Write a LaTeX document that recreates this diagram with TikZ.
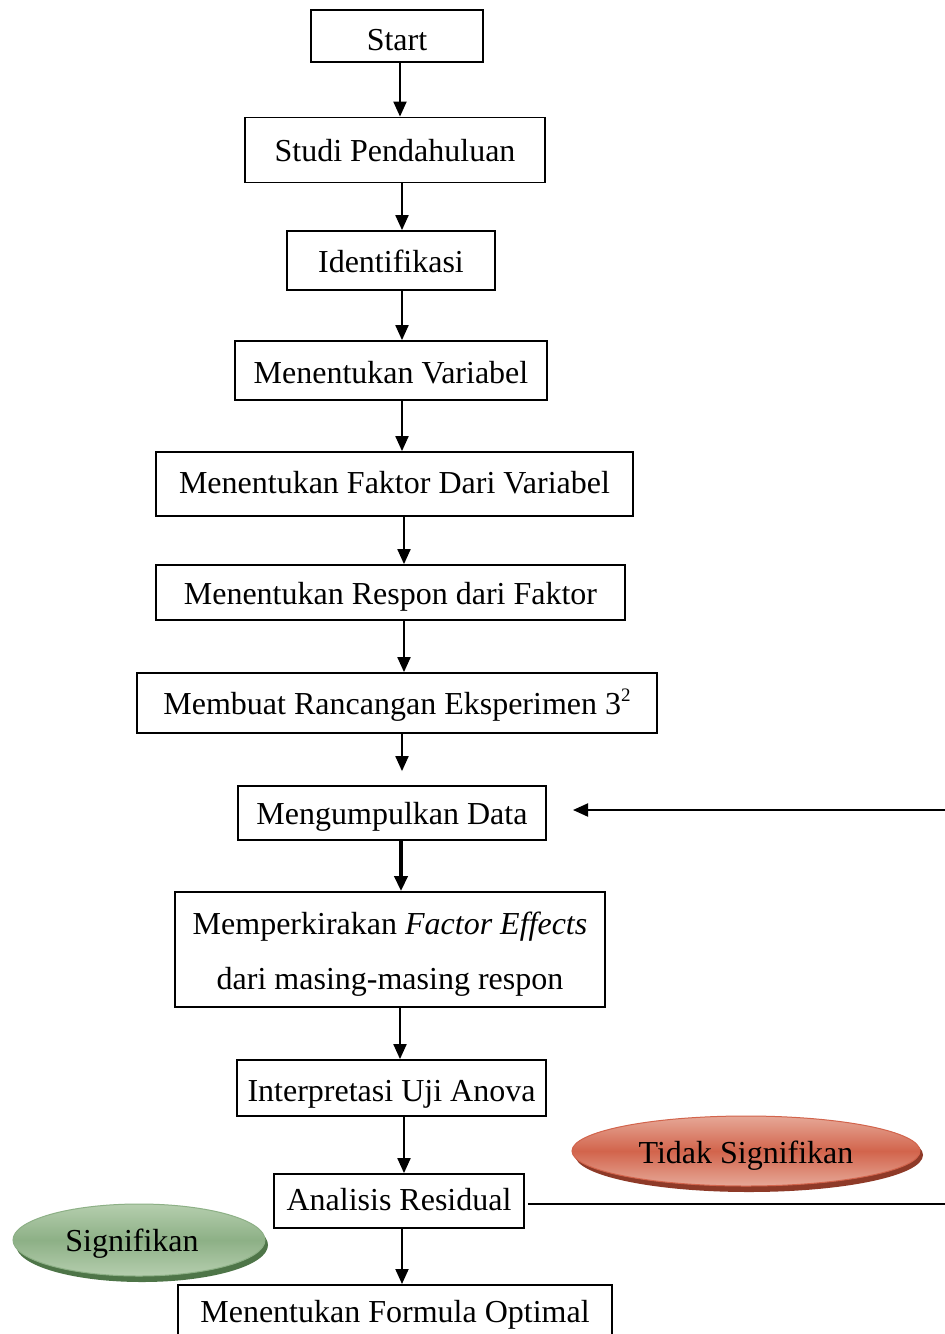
\documentclass[tikz,border=0pt]{standalone}
\usepackage{fontspec}
\setmainfont{Liberation Serif}
\usetikzlibrary{arrows.meta,shapes.geometric,calc}
\newcommand{\dn}[2]{\raisebox{-#1pt}[\height][\depth]{#2}}
\begin{document}
\begin{tikzpicture}[x=1pt,y=-1pt,
  every node/.style={font=\fontsize{32}{38}\selectfont},
  stepbox/.style={draw,line width=1.8pt,inner sep=0pt,align=center},
  arr/.style={line width=2pt,-{Triangle[length=15pt,width=13pt]}},
  oval/.style={ellipse,inner sep=0pt}
]
\definecolor{redA}{HTML}{D2644C}
\definecolor{redB}{HTML}{E6A897}
\definecolor{redS}{HTML}{8E3A28}
\definecolor{grnA}{HTML}{8DB086}
\definecolor{grnB}{HTML}{B5CEAE}
\definecolor{grnS}{HTML}{4E7548}
\useasboundingbox (0,0) rectangle (945,1334);
\fill[white] (0,0) rectangle (945,1334);

\node[stepbox,minimum width=172pt,minimum height=52pt] (st) at (397,36) {\dn{4}{Start}};
\node[stepbox,minimum width=300pt,minimum height=65pt] (sp) at (395,150) {\dn{1}{Studi Pendahuluan}};
\node[stepbox,minimum width=208pt,minimum height=59pt] (id) at (391,260.5) {\dn{1}{Identifikasi}};
\node[stepbox,minimum width=312pt,minimum height=59pt] (mv) at (391,370.5) {\dn{2}{Menentukan Variabel}};
\node[stepbox,minimum width=477pt,minimum height=64pt] (mf) at (394.5,484) {\dn{-1}{Menentukan Faktor Dari Variabel}};
\node[stepbox,minimum width=469pt,minimum height=55pt] (mr) at (390.5,592.5) {\dn{4}{Menentukan Respon dari Faktor}};
\node[stepbox,minimum width=520pt,minimum height=60pt] (re) at (397,703) {\dn{2}{Membuat Rancangan Eksperimen 3\raisebox{13pt}{\fontsize{19}{19}\selectfont 2}}};
\node[stepbox,minimum width=308pt,minimum height=54pt] (md) at (392,813) {\dn{4}{Mengumpulkan Data}};
\node[stepbox,minimum width=430pt,minimum height=115pt] (fe) at (390,949.5) {\dn{5}{\begin{tabular}{@{}c@{}}Memperkirakan \textit{Factor Effects}\\[17pt]dari masing-masing respon\end{tabular}}};
\node[stepbox,minimum width=309pt,minimum height=56pt] (ua) at (391.5,1088) {\dn{6}{Interpretasi Uji Anova}};
\node[stepbox,minimum width=250pt,minimum height=54pt] (ar) at (399,1201) {\dn{-1}{Analisis Residual}};
\node[stepbox,minimum width=434pt,minimum height=60pt,anchor=north] (fo) at (395,1284) {\raisebox{6pt}{Menentukan Formula Optimal}};

% ovals
\fill[redS] (749,1155) ellipse (174pt and 37pt);
\shade[top color=redB,bottom color=redB,middle color=redA,draw=redA,line width=1pt] (746,1151) ellipse (174pt and 35pt);
\node (ts) at (746,1156) {Tidak Signifikan};
\fill[grnS] (142,1245) ellipse (126pt and 37pt);
\shade[top color=grnB,bottom color=grnB,middle color=grnA,draw=grnA,line width=1pt] (139,1240) ellipse (126pt and 36pt);
\node (sg) at (132,1244) {Signifikan};

% arrow x positions
\coordinate (x400) at (400,0);
\coordinate (x401) at (401,0);
\coordinate (x402) at (402,0);
\coordinate (x404) at (404,0);

\draw[arr] (st.south -| x400) -- (sp.north -| x400);
\draw[arr] (sp.south -| x402) -- (id.north -| x402);
\draw[arr] (id.south -| x402) -- (mv.north -| x402);
\draw[arr] (mv.south -| x402) -- (mf.north -| x402);
\draw[arr] (mf.south -| x404) -- (mr.north -| x404);
\draw[arr] (mr.south -| x404) -- (re.north -| x404);
\draw[arr,shorten >=14pt] (re.south -| x402) -- (md.north -| x402);
\draw[arr,line width=4pt] (md.south -| x401) -- (fe.north -| x401);
\draw[arr] (fe.south -| x400) -- (ua.north -| x400);
\draw[arr] (ua.south -| x404) -- (ar.north -| x404);
\draw[arr] (ar.south -| x402) -- (fo.north -| x402);

% feedback
\coordinate (rb) at (945,1204);
\coordinate (rt) at (945,810);
\coordinate (lt) at (573,810);
\draw[line width=2pt] ([xshift=3pt]ar.east |- rb) -- (rb);
\draw[arr] (rt) -- (lt);
\end{tikzpicture}
\end{document}
